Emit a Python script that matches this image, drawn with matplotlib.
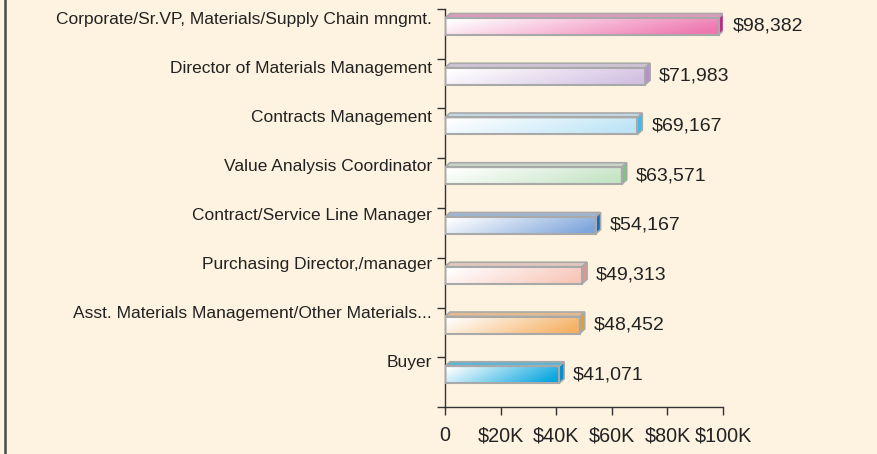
import numpy as np
import matplotlib
matplotlib.use("Agg")
import matplotlib.pyplot as plt
from matplotlib.patches import Polygon, Rectangle
from matplotlib.colors import to_rgb

categories = [
    "Corporate/Sr.VP, Materials/Supply Chain mngmt.",
    "Director of Materials Management",
    "Contracts Management",
    "Value Analysis Coordinator",
    "Contract/Service Line Manager",
    "Purchasing Director,/manager",
    "Asst. Materials Management/Other Materials...",
    "Buyer",
]
values = [98382, 71983, 69167, 63571, 54167, 49313, 48452, 41071]
value_labels = ["$98,382", "$71,983", "$69,167", "$63,571", "$54,167", "$49,313", "$48,452", "$41,071"]
end_colors = ["#EE78B0", "#D3C0E2", "#BDE4F6", "#C6E4C6", "#7FA6DB", "#F8C6B8", "#F5B266", "#08A6DE"]
cap_colors = ["#C2288A", "#B592C9", "#3DBBEA", "#78C87E", "#0F6CC0", "#E8908A", "#E8A020", "#0090D0"]
xticks = [0, 20, 40, 60, 80, 100]
xtick_labels = ["0", "$20K", "$40K", "$60K", "$80K", "$100K"]

bg = "#FEF3E0"
plt.rcParams["font.family"] = ["Liberation Sans", "DejaVu Sans"]

fig = plt.figure(figsize=(8.77, 4.54), dpi=100, facecolor=bg)
ax = fig.add_axes([445 / 877, 47 / 454, 278 / 877, 398 / 454])
ax.set_facecolor(bg)
ax.set_xlim(0, 100)
n = len(categories)
ax.set_ylim(0, n)

# pixel -> data conversions
px_x = 100 / 278.0
px_y = n / 398.0
depth_x = 5 * px_x
depth_y = 4.5 * px_y

for k, (cat, v, lab, ec, cc) in enumerate(zip(categories, values, value_labels, end_colors, cap_colors)):
    top_band = n - k
    y1 = top_band - 9 * px_y
    y0 = top_band - 26 * px_y
    x1 = v / 1000.0
    c = np.array(to_rgb(ec))
    # gradient front face
    nx, ny = 200, 20
    xs = np.linspace(0, 1, nx)[None, :]
    ys = np.linspace(0, 1, ny)[:, None]
    t = np.clip(0.9 * xs + 0.25 * (1 - ys) - 0.05, 0, 1)
    white = np.array([1.0, 1.0, 1.0])
    img = white[None, None, :] * (1 - t[..., None]) + c[None, None, :] * t[..., None]
    rect = Rectangle((0, y0), x1, y1 - y0, facecolor="none", edgecolor="none")
    ax.add_patch(rect)
    im = ax.imshow(img, extent=(0, x1, y1, y0), aspect="auto", zorder=2, interpolation="bilinear")
    im.set_clip_path(rect)
    # top face
    top_col = 0.55 * c + 0.45 * np.array(to_rgb("#C8C8C8"))
    top = Polygon([(0, y1), (x1, y1), (x1 + depth_x, y1 + depth_y), (depth_x, y1 + depth_y)],
                  closed=True, facecolor=top_col, edgecolor="#A9A9A9", linewidth=1.2, zorder=3)
    ax.add_patch(top)
    # end cap
    cap = Polygon([(x1, y0), (x1, y1), (x1 + depth_x, y1 + depth_y), (x1 + depth_x, y0 + depth_y)],
                  closed=True, facecolor=cc, edgecolor="#A9A9A9", linewidth=1.2, zorder=3)
    ax.add_patch(cap)
    # front outline
    ax.add_patch(Rectangle((0, y0), x1, y1 - y0, facecolor="none", edgecolor="#A9A9A9",
                           linewidth=1.5, zorder=4))
    # value label
    ax.text(x1 + 14 * px_x, (y0 + y1) / 2, lab, ha="left", va="center", fontsize=14,
            color="#222222", clip_on=False)
    # category label
    label_px = 11 + 48.9 * k
    ax.text(-13 * px_x, n - label_px * px_y, cat, ha="right", va="center", fontsize=12.5,
            color="#222222", clip_on=False)

ax.set_yticks(np.arange(0, n + 1))
ax.set_yticklabels([])
ax.set_xticks(xticks)
ax.set_xticklabels(xtick_labels, fontsize=14.2, color="#222222")
ax.tick_params(axis="y", direction="out", length=6, width=1, color="#333333")
ax.tick_params(axis="x", direction="out", length=6, width=1, color="#333333", pad=8)
for s in ["top", "right"]:
    ax.spines[s].set_visible(False)
for s in ["left", "bottom"]:
    ax.spines[s].set_color("#333333")
    ax.spines[s].set_linewidth(1)

# left frame line
fig.add_artist(plt.Line2D([5 / 877, 5 / 877], [0, 1], transform=fig.transFigure,
                          color="#4A4A4A", linewidth=1.8))

fig.savefig("out.png", dpi=100, facecolor=bg)
